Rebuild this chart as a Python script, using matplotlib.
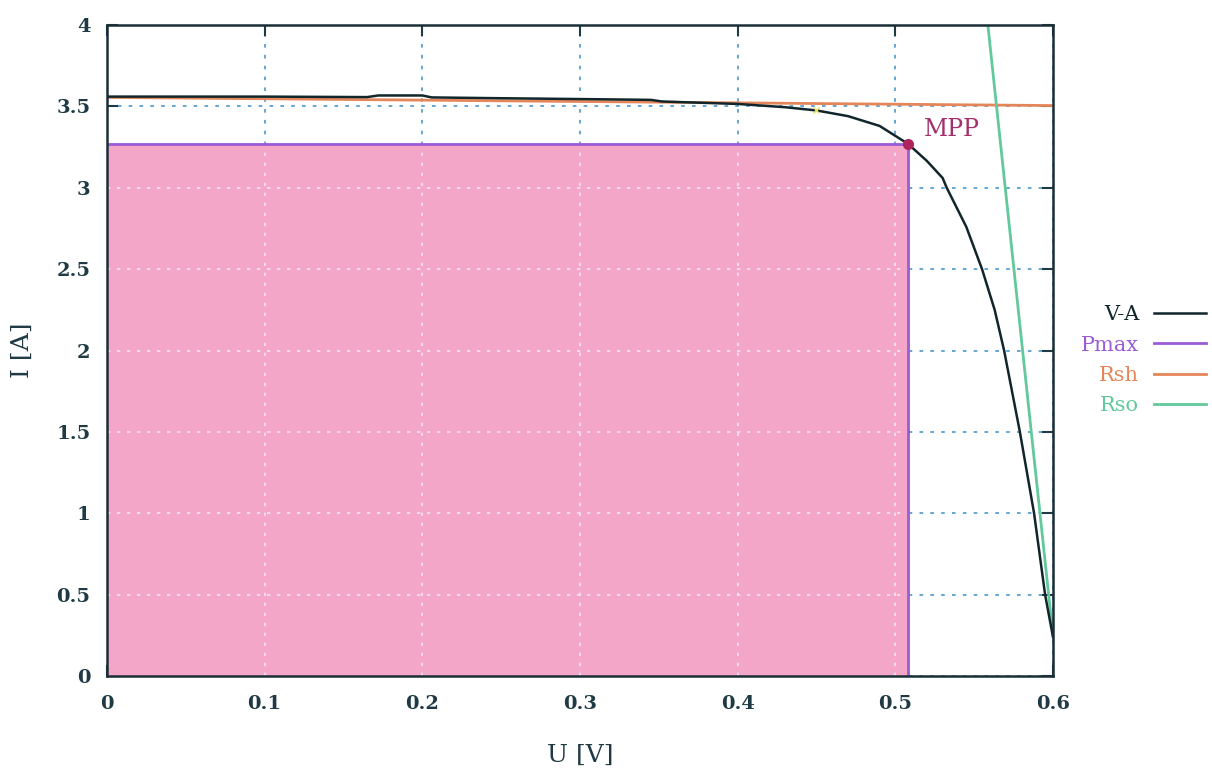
import matplotlib
matplotlib.use("Agg")
import matplotlib.pyplot as plt

# V-A characteristic of the cell
u_va = [0, 0.05, 0.1, 0.165, 0.172, 0.2, 0.206, 0.25, 0.3, 0.345, 0.352, 0.4, 0.43, 0.45,
        0.47, 0.49, 0.508, 0.52, 0.53, 0.5326, 0.545, 0.555, 0.563, 0.569, 0.579, 0.588,
        0.595, 0.6]
i_va = [3.56, 3.56, 3.56, 3.557, 3.567, 3.567, 3.555, 3.55, 3.545, 3.54, 3.53, 3.515, 3.495, 3.475,
        3.44, 3.38, 3.27, 3.165, 3.06, 3.0, 2.76, 2.5, 2.25, 2.0, 1.5, 1.0,
        0.5, 0.24]

# maximum power point
u_mpp = 0.508
i_mpp = 3.27

# shunt and series resistance tangents
u_rsh = [0, 0.6]
i_rsh = [3.555, 3.505]
u_rso = [0.5587, 0.6]
i_rso = [4.0, 0.25]

xticks = [0, 0.1, 0.2, 0.3, 0.4, 0.5, 0.6]
yticks = [0, 0.5, 1, 1.5, 2, 2.5, 3, 3.5, 4]

plt.rcParams['font.family'] = ['DejaVu Serif']

fig = plt.figure(figsize=(12.12, 7.74), dpi=100)
ax = fig.add_axes([0.0883, 0.1266, 0.7805, 0.8411])

ax.grid(True, color='#5b9fd0', linestyle=(0, (2, 4)), lw=1.3, zorder=0.5)
ax.set_axisbelow(True)
ax.fill_between([0, u_mpp], [i_mpp, i_mpp], 0, color='#f3a6c8', zorder=1)
# light grid seen through the Pmax area
ax.vlines([x for x in xticks if 0 < x < u_mpp], 0, i_mpp, color='#f6e6ee',
          linestyle=(0, (2, 4)), lw=1.2, zorder=1.5)
ax.hlines([y for y in yticks if 0 < y < i_mpp], 0, u_mpp, color='#f6e6ee',
          linestyle=(0, (2, 4)), lw=1.2, zorder=1.5)

ax.plot([0, u_mpp, u_mpp], [i_mpp, i_mpp, 0], color='#9b5bd6', lw=2, label='Pmax', zorder=3)
ax.plot(u_rsh, i_rsh, color='#e4865a', lw=2, label='Rsh', zorder=3)
ax.plot(u_rso, i_rso, color='#62c99c', lw=2, label='Rso', zorder=3)
ax.plot(u_va, i_va, color='#10262b', lw=1.8, label='V-A', zorder=4)
ax.plot([0.45], [3.475], marker='x', color='#e8e060', ms=5, zorder=5)
ax.plot([u_mpp], [i_mpp], 'o', color='#b0245e', ms=7, zorder=6)
ax.text(u_mpp + 0.01, 3.36, 'MPP', color='#a3306a', fontsize=17, va='center')

ax.set_xlim(0, 0.6)
ax.set_ylim(0, 4)
ax.set_xticks(xticks)
ax.set_xticklabels(['0', '0.1', '0.2', '0.3', '0.4', '0.5', '0.6'])
ax.set_yticks(yticks)
ax.set_yticklabels(['0', '0.5', '1', '1.5', '2', '2.5', '3', '3.5', '4'])
ax.tick_params(direction='in', length=8, width=1.5, labelsize=14, top=True, right=True,
               colors='#1f3a44')
ax.tick_params(axis='x', pad=14)
ax.tick_params(axis='y', pad=12)
for lab in ax.get_xticklabels() + ax.get_yticklabels():
    lab.set_fontweight('bold')
for s in ax.spines.values():
    s.set_linewidth(1.8)
    s.set_color('#1a2e36')
    s.set_zorder(7)

ax.set_xlabel('U [V]', fontsize=18, color='#1f3a44', labelpad=22)
ax.set_ylabel('I [A]', fontsize=18, color='#1f3a44', labelpad=16)

h, l = ax.get_legend_handles_labels()
order = [l.index(n) for n in ['V-A', 'Pmax', 'Rsh', 'Rso']]
leg = ax.legend([h[k] for k in order], [l[k] for k in order], loc='center left',
                bbox_to_anchor=(1.01, 0.485), frameon=False, markerfirst=False,
                fontsize=15, handlelength=2.5, handletextpad=0.7, labelspacing=0.55,
                labelcolor='linecolor')

fig.savefig('out.png', dpi=100)
